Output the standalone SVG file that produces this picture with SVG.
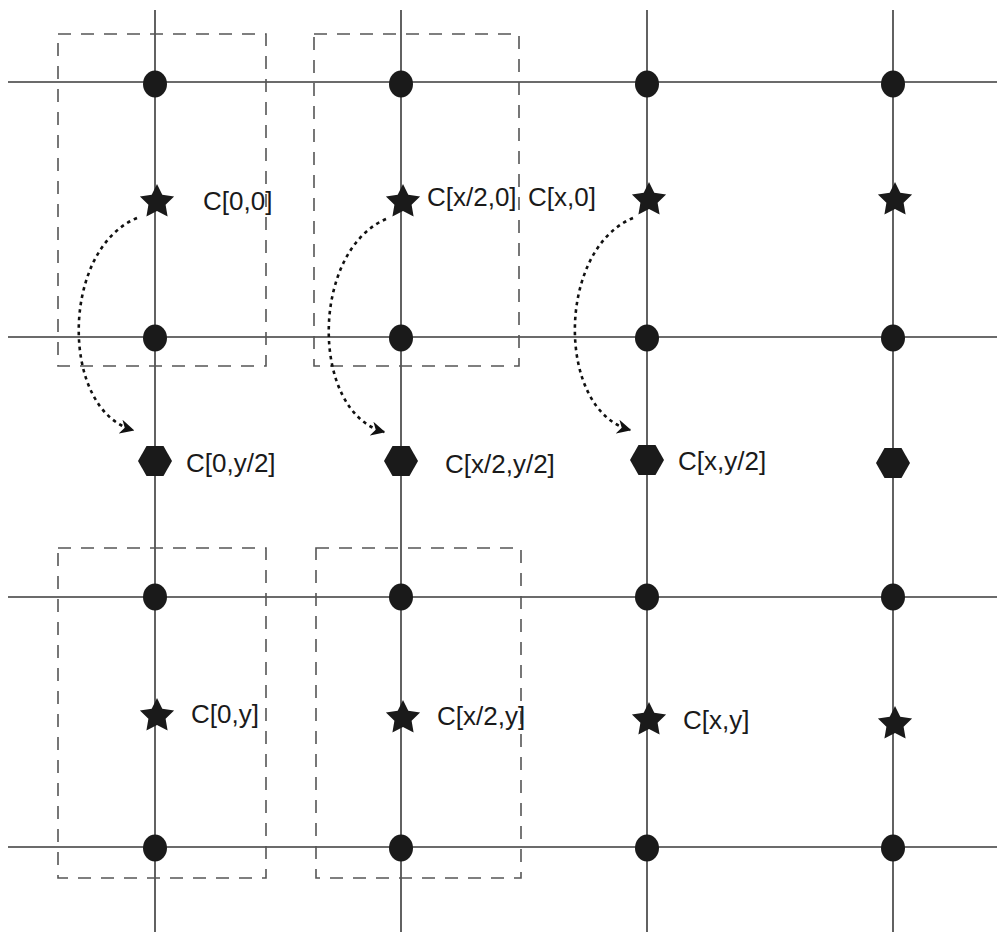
<svg xmlns="http://www.w3.org/2000/svg" width="1000" height="937" viewBox="0 0 1000 937">
<style>
.grid{stroke:#3a3a3a;stroke-width:1.6;fill:none}
.box{stroke:#555;stroke-width:1.6;fill:none;stroke-dasharray:13 10}
.arc{stroke:#111;stroke-width:2.6;fill:none;stroke-dasharray:3.5 4}
.dot{fill:#1a1a1a}
.lbl{font-family:"Liberation Sans",Arial,sans-serif;font-size:26px;fill:#1a1a1a}
</style>
<defs>
<marker id="ah" viewBox="0 0 10 10" refX="9" refY="5" markerWidth="5.5" markerHeight="5.5" orient="auto" markerUnits="strokeWidth">
<path d="M0,0 L10,5 L0,10 L3,5 Z" fill="#111"/>
</marker>
<polygon id="star" points="0,-18 5.3,-7.3 17.1,-5.6 8.6,2.8 10.6,14.6 0,9 -10.6,14.6 -8.6,2.8 -17.1,-5.6 -5.3,-7.3" fill="#1a1a1a"/>
<polygon id="hex" points="-17,0 -8.5,-15 8.5,-15 17,0 8.5,15 -8.5,15" fill="#1a1a1a"/>
</defs>
<rect width="1000" height="937" fill="#fff"/>
<g id="grid-lines">
<line class="grid" x1="155" y1="10" x2="155" y2="932"/>
<line class="grid" x1="401" y1="10" x2="401" y2="932"/>
<line class="grid" x1="647" y1="10" x2="647" y2="932"/>
<line class="grid" x1="893" y1="10" x2="893" y2="932"/>
<line class="grid" x1="8" y1="82" x2="997" y2="82"/>
<line class="grid" x1="8" y1="337" x2="997" y2="337"/>
<line class="grid" x1="8" y1="597" x2="997" y2="597"/>
<line class="grid" x1="8" y1="847" x2="997" y2="847"/>
</g>
<g id="dashed-boxes">
<rect class="box" x="58" y="34" width="208" height="332"/>
<rect class="box" x="314" y="34" width="205" height="332"/>
<rect class="box" x="58" y="548" width="208" height="330"/>
<rect class="box" x="316" y="548" width="205" height="330"/>
</g>
<g id="connectors">
<path class="arc" d="M137,218 C60,250 60,410 133,430" marker-end="url(#ah)"/>
<path class="arc" d="M386,219 C310,252 310,412 384,432" marker-end="url(#ah)"/>
<path class="arc" d="M633,218 C556,250 556,410 630,430" marker-end="url(#ah)"/>
</g>
<g id="dots">
<ellipse class="dot" cx="155" cy="84" rx="12" ry="13.5"/>
<ellipse class="dot" cx="401" cy="84" rx="12" ry="13.5"/>
<ellipse class="dot" cx="647" cy="84" rx="12" ry="13.5"/>
<ellipse class="dot" cx="893" cy="84" rx="12" ry="13.5"/>
<ellipse class="dot" cx="155" cy="338" rx="12" ry="13.5"/>
<ellipse class="dot" cx="401" cy="338" rx="12" ry="13.5"/>
<ellipse class="dot" cx="647" cy="338" rx="12" ry="13.5"/>
<ellipse class="dot" cx="893" cy="338" rx="12" ry="13.5"/>
<ellipse class="dot" cx="155" cy="597" rx="12" ry="13.5"/>
<ellipse class="dot" cx="401" cy="597" rx="12" ry="13.5"/>
<ellipse class="dot" cx="647" cy="597" rx="12" ry="13.5"/>
<ellipse class="dot" cx="893" cy="597" rx="12" ry="13.5"/>
<ellipse class="dot" cx="155" cy="848" rx="12" ry="13.5"/>
<ellipse class="dot" cx="401" cy="848" rx="12" ry="13.5"/>
<ellipse class="dot" cx="647" cy="848" rx="12" ry="13.5"/>
<ellipse class="dot" cx="893" cy="848" rx="12" ry="13.5"/>
</g>
<g id="node-c00"><use href="#star" x="157" y="202"/><text class="lbl" x="203" y="210">C[0,0]</text></g>
<g id="node-cx20"><use href="#star" x="403" y="202"/><text class="lbl" x="427" y="206">C[x/2,0]</text></g>
<g id="node-cx0"><use href="#star" x="649" y="200"/><text class="lbl" x="528" y="206">C[x,0]</text></g>
<g id="node-star4"><use href="#star" x="895" y="200"/></g>
<g id="node-c0y2"><use href="#hex" x="155" y="461"/><text class="lbl" x="186" y="472">C[0,y/2]</text></g>
<g id="node-cx2y2"><use href="#hex" x="401" y="461"/><text class="lbl" x="445" y="473">C[x/2,y/2]</text></g>
<g id="node-cxy2"><use href="#hex" x="647" y="460"/><text class="lbl" x="678" y="470">C[x,y/2]</text></g>
<g id="node-hex4"><use href="#hex" x="893" y="463"/></g>
<g id="node-c0y"><use href="#star" x="157" y="716"/><text class="lbl" x="191" y="723">C[0,y]</text></g>
<g id="node-cx2y"><use href="#star" x="403" y="718"/><text class="lbl" x="437" y="725">C[x/2,y]</text></g>
<g id="node-cxy"><use href="#star" x="649" y="720"/><text class="lbl" x="683" y="729">C[x,y]</text></g>
<g id="node-star8"><use href="#star" x="895" y="724"/></g>
</svg>
